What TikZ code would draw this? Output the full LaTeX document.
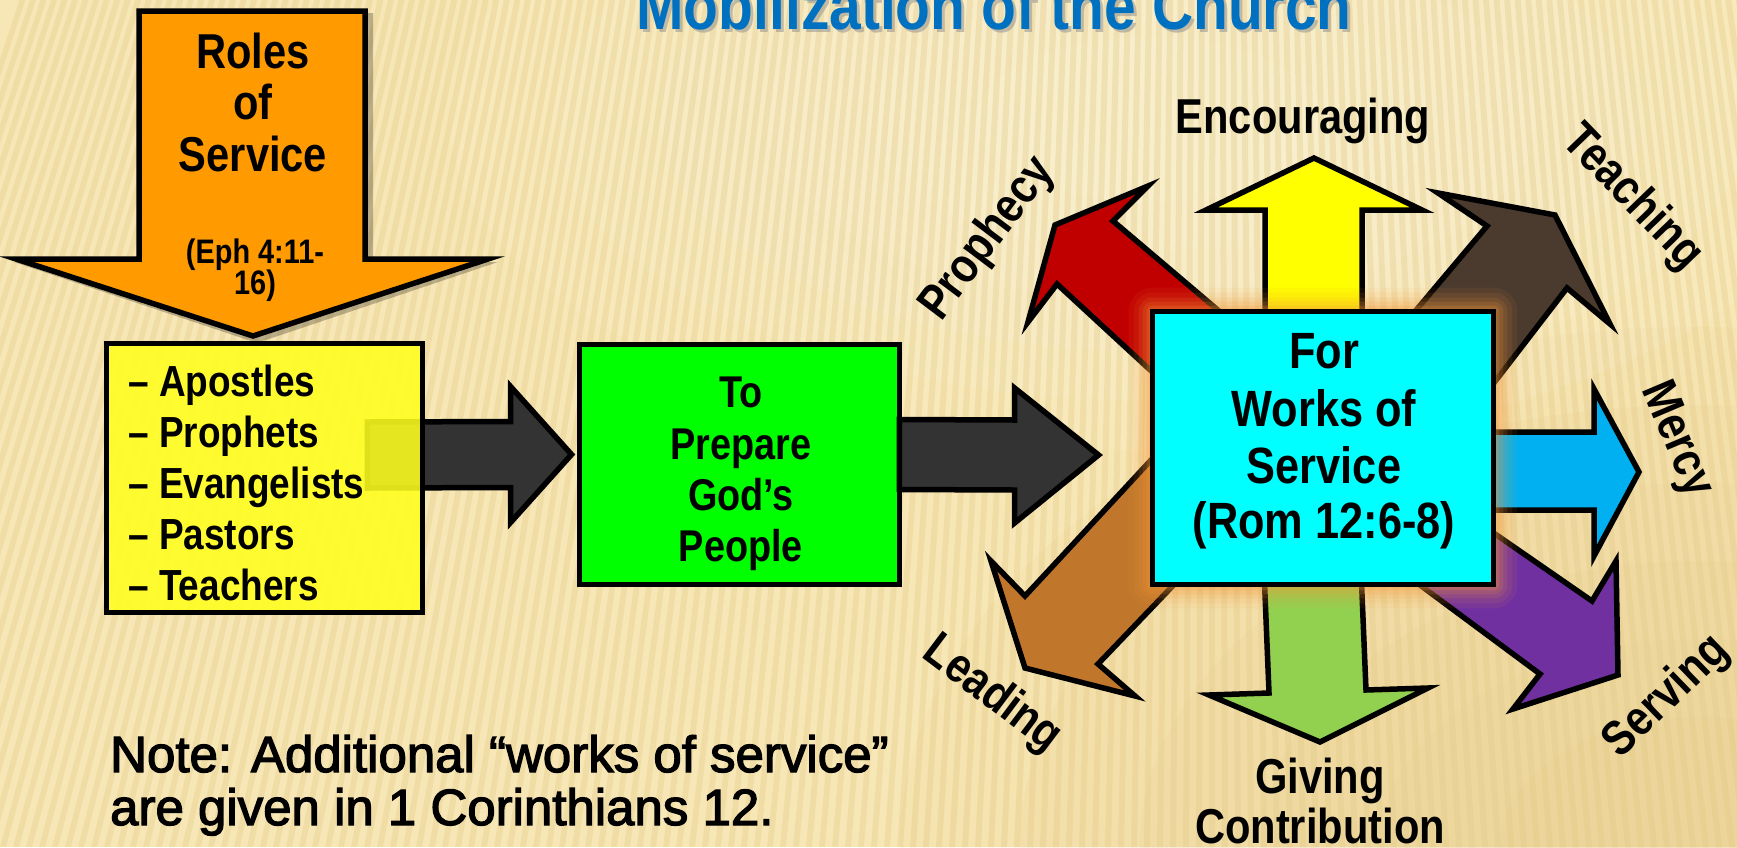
\documentclass[tikz,border=0pt]{standalone}
\usepackage{fontspec}
\setmainfont{Liberation Sans}[FakeStretch=0.85]
\newfontfamily\notefont{Liberation Sans}[FakeStretch=1.0,FakeBold=2.5]
\usetikzlibrary{calc}
\definecolor{bgbase}{HTML}{F8E7B6}
\definecolor{bglight}{HTML}{FDF4DA}
\definecolor{bgdark}{HTML}{E6CB88}
\definecolor{stripe}{HTML}{E3C987}
\definecolor{orangeA}{HTML}{FF9A00}
\definecolor{yellowbox}{HTML}{FFFF1E}
\definecolor{greenbox}{HTML}{00FF00}
\definecolor{cyanbox}{HTML}{00FFFF}
\definecolor{darkarr}{HTML}{333333}
\definecolor{redarr}{HTML}{C00000}
\definecolor{yelarr}{HTML}{FFFF00}
\definecolor{teach}{HTML}{4B3A2E}
\definecolor{mercyc}{HTML}{00B0F0}
\definecolor{serve}{HTML}{7030A0}
\definecolor{give}{HTML}{92D050}
\definecolor{lead}{HTML}{C0772C}
\definecolor{titleblue}{HTML}{0070C0}
\definecolor{glowc}{HTML}{F59A3A}
\begin{document}
\begin{tikzpicture}[x=1pt,y=-1pt,
  outl/.style={draw=black,line width=5.5pt,line join=miter,miter limit=10},
  txt/.style={font=\bfseries\fontsize{#1}{#1}\selectfont,inner sep=0pt,text=black},
  lbl/.style={txt=49}]
\useasboundingbox (0,0) rectangle (1737,847);
\clip (0,0) rectangle (1737,847);
% ---------- background ----------
\fill[bgbase] (0,0) rectangle (1737,847);
\foreach \s in {1.0,0.85,0.7,0.55,0.4,0.25}
  \fill[bgdark,opacity=0.13] (1700,847) ellipse ({800*\s} and {520*\s});
\foreach \s in {1.0,0.85,0.7,0.55,0.4,0.25}
  \fill[bglight,opacity=0.16] (1150,120) ellipse ({700*\s} and {330*\s});
\foreach \i in {0,...,165} {
  \pgfmathsetmacro\xa{-260+\i*13}
  \pgfmathsetmacro\xb{\xa+230-0.19*\xa}
  \fill[stripe,opacity=0.35] (\xa,847) -- ({\xa+6},847) -- ({\xb+6},0) -- (\xb,0) -- cycle;
}
% ---------- title ----------
\node[font=\bfseries\fontsize{67}{67}\selectfont,text=black!45,opacity=0.5,anchor=base,inner sep=0pt] (titlesh) at (997,32) {Mobilization of the Church};
\node[font=\bfseries\fontsize{67}{67}\selectfont,text=titleblue,anchor=base,inner sep=0pt] (title) at (994,29) {Mobilization of the Church};
% ---------- roles of service arrow ----------
\fill[black,opacity=0.25] (142,13) -- (373,13) -- (373,262) -- (498,262) -- (257,343) -- (14,262) -- (142,262) -- cycle;
\draw[outl,fill=orangeA] (139,11) -- (365,11) -- (365,259) -- (488,259) -- (253,336) -- (16,259) -- (139,259) -- cycle;
\node[txt=49,anchor=base] (roles1) at (253,68) {Roles};
\node[txt=49,anchor=base] (roles2) at (253,119) {of};
\node[txt=49,anchor=base] (roles3) at (253,171) {Service};
\node[txt=34,anchor=base] (eph1) at (255,263) {(Eph 4:11-};
\node[txt=34,anchor=base] (eph2) at (255,294) {16)};
% ---------- yellow box and first connector ----------
\node[inner sep=0pt,minimum width=315.5pt,minimum height=268.5pt] (ybox) at (264.5,478) {};
\node[inner sep=0pt,minimum width=319.5pt,minimum height=239.5pt] (gbox) at (739.5,464.5) {};
\coordinate (a1tail) at ($(ybox.east)+(-55,-23)$);
\coordinate (a1tip) at ($(gbox.west)+(-8,-10)$);
\draw[outl,fill=darkarr] ($(a1tail)+(0,-33)$) -- ($(a1tip)+(-61,-33)$) -- ($(a1tip)+(-61,-68)$) -- (a1tip)
  -- ($(a1tip)+(-61,68)$) -- ($(a1tip)+(-61,33)$) -- ($(a1tail)+(0,33)$) -- cycle;
\draw[outl,fill=yellowbox,fill opacity=0.88] (ybox.north west) rectangle (ybox.south east);
\foreach \t [count=\i] in {Apostles,Prophets,Evangelists,Pastors,Teachers}
  \node[txt=43.5,anchor=base west] (li\i) at (128,{396+51*(\i-1)}) {– \t};
% ---------- green box ----------
\draw[outl,fill=greenbox] (gbox.north west) rectangle (gbox.south east);
\node[txt=44.5,anchor=base] (g1) at (741,407) {To};
\node[txt=44.5,anchor=base] (g2) at (741,459) {Prepare};
\node[txt=44.5,anchor=base] (g3) at (741,510) {God’s};
\node[txt=44.5,anchor=base] (g4) at (741,561) {People};
% ---------- cyan box placeholder ----------
\node[inner sep=0pt,minimum width=340.5pt,minimum height=272.5pt] (cbox) at (1323,448) {};
\coordinate (a2tail) at ($(gbox.east)+(0,-10)$);
\coordinate (a2tip) at ($(cbox.west)+(-54,7)$);
\draw[outl,fill=darkarr] ($(a2tail)+(0,-35)$) -- ($(a2tip)+(-84,-35)$) -- ($(a2tip)+(-84,-67)$) -- (a2tip)
  -- ($(a2tip)+(-84,68)$) -- ($(a2tip)+(-84,35)$) -- ($(a2tail)+(0,35)$) -- cycle;
% ---------- radiating arrows ----------
% prophecy (red)
\draw[outl,fill=redarr] (1055,225) -- (1148,186) -- (1113,221) -- (1239,328) -- (1174,392) -- (1057,284) -- (1028,322) -- cycle;
% teaching (dark brown)
\draw[outl,fill=teach] (1555,215) -- (1610,324) -- (1567,288) -- (1470,414) -- (1396,334) -- (1487,226) -- (1438,193) -- cycle;
% leading (ochre)
\draw[outl,fill=lead] (1025,668) -- (991,561) -- (1025,596) -- (1177,432) -- (1208,549) -- (1098,664) -- (1135,696) -- cycle;
% serving (purple)
\draw[outl,fill=serve] (1618,675) -- (1616,561) -- (1592,601) -- (1472,518) -- (1393,565) -- (1540,674) -- (1513,709) -- cycle;
% encouraging (yellow)
\draw[outl,fill=yelarr] (1265,330) -- (1265,210) -- (1206,210) -- (1314,158) -- (1422,210) -- (1362,210) -- (1362,330) -- cycle;
% giving (green)
\draw[outl,fill=give] (1264,570) -- (1269,693) -- (1209,695) -- (1320,742) -- (1428,688) -- (1366,690) -- (1361,570) -- cycle;
% mercy (blue)
\draw[outl,fill=mercyc] (1480,432) -- (1594,432) -- (1594,389) -- (1639,472) -- (1594,556) -- (1594,510) -- (1480,510) -- cycle;
% ---------- glow and cyan box ----------
\foreach \d/\o in {24/0.07,19/0.09,14/0.12,10/0.15,6/0.2,3/0.25}
  \fill[glowc,opacity=\o,rounded corners=\d pt] ($(cbox.north west)+(-\d,-\d)$) rectangle ($(cbox.south east)+(\d,\d)$);
\draw[outl,fill=cyanbox] (cbox.north west) rectangle (cbox.south east);
\node[txt=51,anchor=base] (c1) at (1324,368) {For};
\node[txt=51,anchor=base] (c2) at (1324,426) {Works of};
\node[txt=51,anchor=base] (c3) at (1324,483) {Service};
\node[txt=51,anchor=base] (c4) at (1324,538) {(Rom 12:6-8)};
% ---------- labels ----------
\node[lbl,anchor=base] (encour) at (1303,133) {Encouraging};
\node[lbl,rotate=53] (prophecy) at (988,239) {Prophecy};
\node[lbl,rotate=-46] (teaching) at (1632,198) {Teaching};
\node[lbl,rotate=-67] (mercyl) at (1676,440) {Mercy};
\node[lbl,rotate=44] (serving) at (1667,697) {Serving};
\node[lbl,rotate=-37] (leading) at (992,695) {Leading};
\node[lbl,anchor=base] (giving) at (1320,793) {Giving};
\node[lbl,anchor=base] (contrib) at (1320,843) {Contribution};
% ---------- note ----------
\node[font=\notefont\fontsize{51}{51}\selectfont,anchor=base west,inner sep=0pt] (note1) at (110,772) {Note: Additional “works of service”};
\node[font=\notefont\fontsize{51}{51}\selectfont,anchor=base west,inner sep=0pt] (note2) at (110,825) {are given in 1 Corinthians 12.};
\end{tikzpicture}
\end{document}
